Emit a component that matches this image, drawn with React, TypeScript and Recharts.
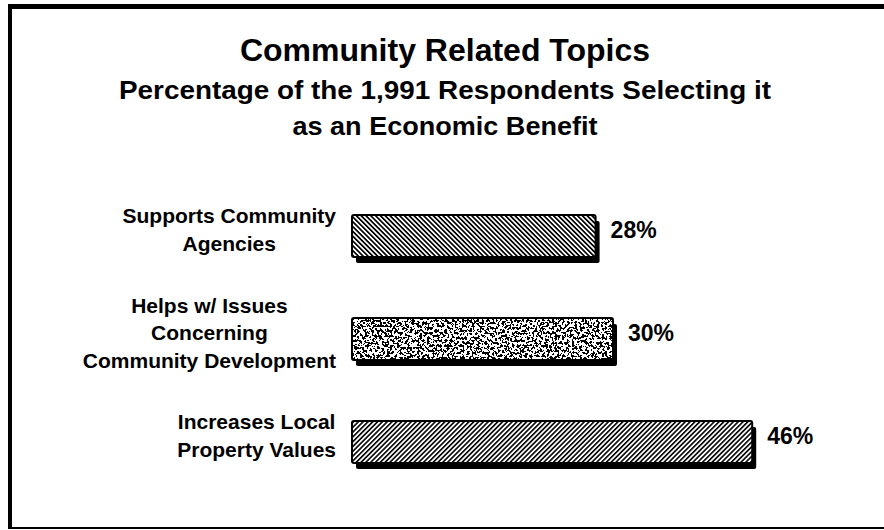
import { Bar, BarChart, LabelList, XAxis, YAxis } from "recharts";

const title = "Community Related Topics";
const subtitleLines = [
  "Percentage of the 1,991 Respondents Selecting it",
  "as an Economic Benefit",
];
const categories = [
  "Supports Community\nAgencies",
  "Helps w/ Issues\nConcerning\nCommunity Development",
  "Increases Local\nProperty Values",
];
const percents = [28, 30, 46];
const fills = ["url(#hatchBack)", "url(#speckleFill)", "url(#hatchFwd)"];

const data = categories.map((name, i) => ({ name, value: percents[i] }));

const FONT = "'Liberation Sans', Arial, sans-serif";
const LABEL_SIZE = 21;

let ctx: CanvasRenderingContext2D | null = null;
const measure = (s: string) => {
  if (!ctx) ctx = document.createElement("canvas").getContext("2d");
  if (!ctx) return s.length * LABEL_SIZE * 0.6;
  ctx.font = `bold ${LABEL_SIZE}px ${FONT}`;
  return ctx.measureText(s).width;
};

const CategoryTick = ({ x, y, payload }: any) => {
  const lines: string[] = String(payload.value).split("\n");
  const right = x - 8;
  const w = Math.max(...lines.map(measure));
  const cx = right - w / 2;
  const lh = 27.5;
  const top = y - 6 - ((lines.length - 1) * lh) / 2;
  return (
    <text
      textAnchor="middle"
      fontFamily={FONT}
      fontWeight="bold"
      fontSize={LABEL_SIZE}
      fill="#000"
    >
      {lines.map((l, i) => (
        <tspan key={i} x={cx} y={top + i * lh} dominantBaseline="central">
          {l}
        </tspan>
      ))}
    </text>
  );
};

const ShadowBar = (props: any) => {
  const { x, y, width, height, index } = props;
  return (
    <g>
      <rect x={x + 4} y={y + 6} width={width} height={height} fill="#000" rx={2} />
      <rect x={x} y={y} width={width} height={height} fill="#fff" />
      <rect
        x={x}
        y={y}
        width={width}
        height={height}
        fill={fills[index]}
        filter={index === 1 ? "url(#speckle)" : undefined}
      />
      <rect
        x={x}
        y={y}
        width={width}
        height={height}
        fill="none"
        stroke="#000"
        strokeWidth={2}
        rx={2}
      />
    </g>
  );
};

const ValueLabel = (props: any) => {
  const { x, y, width, height, value } = props;
  return (
    <text
      x={x + width + 15}
      y={y + height / 2 - 6}
      fontFamily={FONT}
      fontWeight="bold"
      fontSize={23}
      fill="#000"
      dominantBaseline="central"
    >
      {value}%
    </text>
  );
};

export default function App() {
  return (
    <div
      style={{
        position: "fixed",
        left: 0,
        top: 0,
        width: 884,
        height: 530,
        overflow: "hidden",
        background: "#fff",
        fontFamily: FONT,
      }}
    >
      <div
        style={{
          position: "absolute",
          left: 8,
          top: 4,
          width: 900,
          height: 518,
          borderTop: "5px solid #000",
          borderLeft: "4px solid #000",
          borderBottom: "2px solid #000",
        }}
      />
      <svg
        width={884}
        height={150}
        style={{ position: "absolute", left: 0, top: 0 }}
      >
        <text
          x={445}
          y={61}
          textAnchor="middle"
          fontFamily={FONT}
          fontWeight="bold"
          fontSize={32}
        >
          {title}
        </text>
        <text
          x={445}
          y={99}
          textAnchor="middle"
          fontFamily={FONT}
          fontWeight="bold"
          fontSize={25}
          textLength={652}
          lengthAdjust="spacingAndGlyphs"
        >
          {subtitleLines[0]}
        </text>
        <text
          x={445}
          y={135}
          textAnchor="middle"
          fontFamily={FONT}
          fontWeight="bold"
          fontSize={25}
          textLength={305}
          lengthAdjust="spacingAndGlyphs"
        >
          {subtitleLines[1]}
        </text>
      </svg>
      <div style={{ position: "absolute", left: 0, top: 0 }}>
        <BarChart
          width={884}
          height={530}
          data={data}
          layout="vertical"
          margin={{ top: 184, right: 10, bottom: 37, left: 0 }}
        >
          <defs>
            <pattern
              id="hatchBack"
              width={3.4}
              height={3.4}
              patternUnits="userSpaceOnUse"
              patternTransform="rotate(-45)"
            >
              <rect x={0} y={0} width={1.7} height={3.4} fill="#000" />
            </pattern>
            <pattern
              id="hatchFwd"
              width={3.4}
              height={3.4}
              patternUnits="userSpaceOnUse"
              patternTransform="rotate(45)"
            >
              <rect x={0} y={0} width={1.6} height={3.4} fill="#000" />
            </pattern>
            <pattern id="speckleFill" width={4} height={4} patternUnits="userSpaceOnUse">
              <rect width={4} height={4} fill="#000" />
            </pattern>
            <filter id="speckle" x="0" y="0" width="100%" height="100%">
              <feTurbulence
                type="fractalNoise"
                baseFrequency="0.4"
                numOctaves={4}
                seed={7}
                result="n"
              />
              <feColorMatrix
                in="n"
                type="matrix"
                values="0 0 0 0 0  0 0 0 0 0  0 0 0 0 0  -3 0 0 0 1.95"
              />
              <feComponentTransfer>
                <feFuncA type="discrete" tableValues="0 1" />
              </feComponentTransfer>
              <feComposite in2="SourceGraphic" operator="in" />
            </filter>
          </defs>
          <XAxis type="number" domain={[0, 60]} hide />
          <YAxis
            type="category"
            dataKey="name"
            width={352}
            axisLine={false}
            tickLine={false}
            tick={<CategoryTick />}
            interval={0}
          />
          <Bar
            dataKey="value"
            barSize={42}
            isAnimationActive={false}
            shape={<ShadowBar />}
          >
            <LabelList dataKey="value" content={<ValueLabel />} />
          </Bar>
        </BarChart>
      </div>
    </div>
  );
}
